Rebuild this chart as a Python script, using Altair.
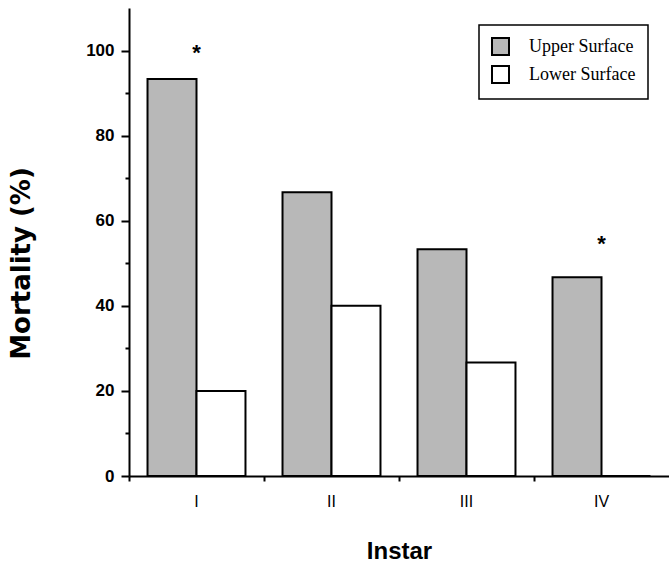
import altair as alt
import pandas as pd

# ---- data ----
instars = ["I", "II", "III", "IV"]
surfaces = ["Upper Surface", "Lower Surface"]
upper_mortality = [93.3, 66.7, 53.3, 46.7]
lower_mortality = [20.0, 40.0, 26.7, 0.0]
star_instars = ["I", "IV"]
star_heights = [100, 55]
y_tick_values = [0, 10, 20, 30, 40, 50, 60, 70, 80, 90, 100]
surface_colors = ["#b8b8b8", "#ffffff"]

rows = []
for i, inst in enumerate(instars):
    rows.append({"instar": inst, "surface": surfaces[0], "mortality": upper_mortality[i]})
    rows.append({"instar": inst, "surface": surfaces[1], "mortality": lower_mortality[i]})
bars_df = pd.DataFrame(rows)
stars_df = pd.DataFrame({"instar": star_instars, "height": star_heights,
                         "sym": ["*"] * len(star_instars)})

W, H = 540, 468

x_scale = alt.Scale(domain=instars, paddingInner=0, paddingOuter=0)
y_scale = alt.Scale(domain=[0, 110], nice=False, zero=True)

x_axis = alt.Axis(
    title="Instar", bandPosition=0,
    labelFont="Liberation Sans", labelFontSize=16, labelFontWeight="normal",
    labelColor="black", labelPadding=12, tickSize=5, labelAngle=0,
    titleFont="Liberation Sans", titleFontSize=24, titleFontWeight="bold",
    titleColor="black", titleBaseline="alphabetic", titleY=82,
)
y_axis = alt.Axis(
    title="Mortality  (%)", values=y_tick_values,
    labelExpr="datum.value % 20 === 0 ? datum.label : ''",
    tickSize={"condition": {"test": "datum.value % 20 === 0", "value": 8}, "value": 4},
    labelFont="Liberation Sans", labelFontSize=17, labelFontWeight="bold",
    labelColor="black", labelPadding=7,
    titleFont="DejaVu Sans", titleFontSize=26, titleFontWeight="bold",
    titleColor="black", titleAngle=270, titleBaseline="middle",
    titleAlign="center", titleX=-108, titleY=255,
)

bars = alt.Chart(bars_df).mark_bar(stroke="black", strokeWidth=2).encode(
    x=alt.X("instar:N", scale=x_scale, axis=x_axis, sort=instars),
    xOffset=alt.XOffset("surface:N", sort=surfaces,
                        scale=alt.Scale(domain=surfaces, paddingInner=0, paddingOuter=0.378)),
    y=alt.Y("mortality:Q", scale=y_scale, axis=y_axis),
    color=alt.Color("surface:N", sort=surfaces,
                    scale=alt.Scale(domain=surfaces, range=surface_colors),
                    legend=alt.Legend(
                        title=None, orient="none", legendX=350, legendY=17,
                        symbolType="square", symbolSize=289,
                        symbolStrokeColor="black", symbolStrokeWidth=2,
                        labelFont="Liberation Serif", labelFontSize=18,
                        labelColor="black", labelOffset=19, rowPadding=3,
                        padding=12, strokeColor="black",
                        labelExpr="datum.label + '     '",
                    )),
)

stars = alt.Chart(stars_df).mark_text(
    font="Liberation Sans", fontSize=22, fontWeight="bold", color="black",
    baseline="middle", align="center", dy=2,
).encode(
    x=alt.X("instar:N", scale=x_scale, sort=instars),
    y=alt.Y("height:Q", scale=y_scale),
    text="sym:N",
)

chart = alt.layer(bars, stars).properties(
    width=W, height=H, autosize="none",
    padding={"left": 129, "top": 8, "right": 0, "bottom": 87},
).configure_view(stroke=None).configure_axis(
    domainColor="black", domainWidth=2, tickColor="black", tickWidth=2, grid=False,
).configure_legend(strokeWidth=1.5)

chart.save("out.html", embed_options={"renderer": "svg", "actions": False})
